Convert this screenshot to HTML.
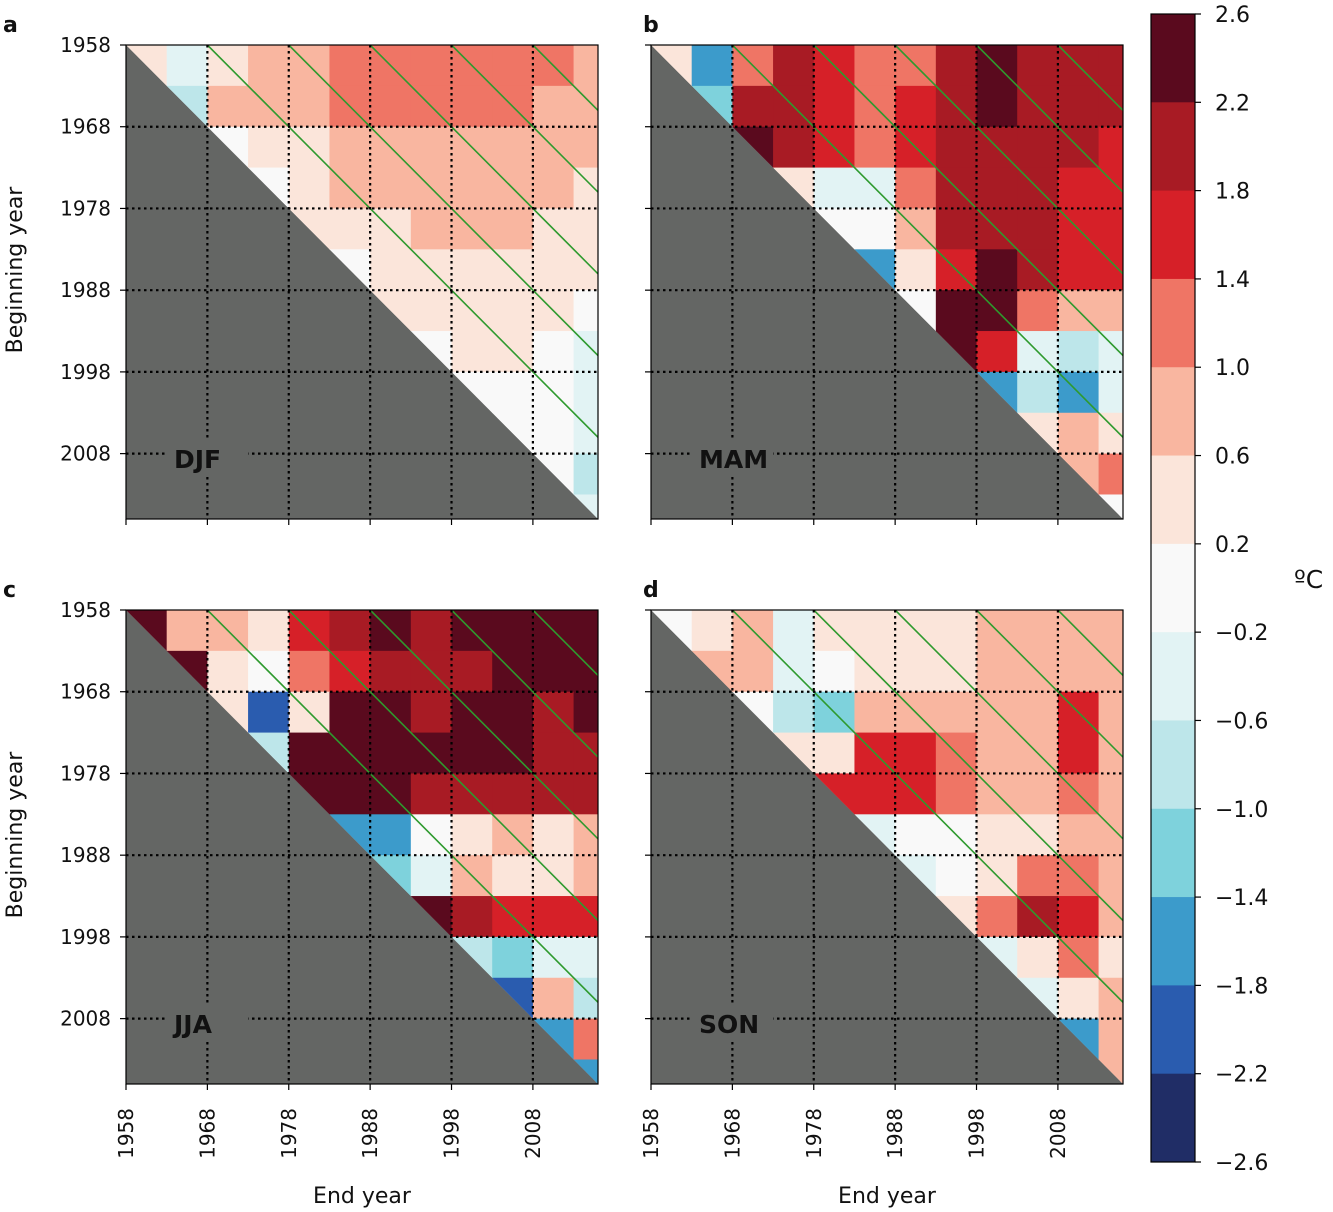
<!DOCTYPE html>
<html><head><meta charset="utf-8">
<style>
html,body{margin:0;padding:0;background:#fff;}
svg{display:block;font-family:"DejaVu Sans","Liberation Sans",sans-serif;}
</style></head>
<body>
<svg id="fig" width="1333" height="1212" viewBox="0 0 1333 1212">
<g id="panels"></g>
<g id="cbar"></g>
</svg>
<script>
// ---- data ----
const startYear = 1958;
const endYear = 2016;
const blockYears = 5;
const yearTicks = [1958, 1968, 1978, 1988, 1998, 2008];
const trendLengths = [10, 20, 30, 40, 50];
const cbarLevels = [2.6, 2.2, 1.8, 1.4, 1.0, 0.6, 0.2, -0.2, -0.6, -1.0, -1.4, -1.8, -2.2, -2.6];
const cbarColors = ["#5a0a1e","#a81b24","#d62028","#ef7565","#f9b6a0","#fbe5da","#f9f9f9","#e2f3f4","#bde6ea","#7ed2dc","#3c9bcb","#2a5caf","#202d66"];
const panelLetters = ["a","b","c","d"];
const seasonNames = ["DJF","MAM","JJA","SON"];
const N = null;
const djf = [
 [0.2,-0.4,0.4,0.6,0.8,1.2,1.2,1.2,1.2,1.2,1.0,0.8],
 [N,-0.8,0.6,0.8,0.8,1.0,1.0,1.2,1.2,1.0,0.8,0.6],
 [N,N,0.0,0.4,0.4,0.6,0.6,0.8,0.8,0.8,0.6,0.6],
 [N,N,N,0.0,0.2,0.6,0.6,0.6,0.6,0.6,0.6,0.4],
 [N,N,N,N,0.2,0.4,0.4,0.6,0.6,0.6,0.4,0.4],
 [N,N,N,N,N,0.0,0.2,0.4,0.4,0.4,0.4,0.2],
 [N,N,N,N,N,N,0.2,0.4,0.4,0.4,0.2,0.0],
 [N,N,N,N,N,N,N,0.0,0.2,0.2,0.0,-0.4],
 [N,N,N,N,N,N,N,N,0.0,0.0,-0.2,-0.6],
 [N,N,N,N,N,N,N,N,N,-0.2,0.0,-0.6],
 [N,N,N,N,N,N,N,N,N,N,0.0,-0.8],
 [N,N,N,N,N,N,N,N,N,N,N,-0.4]];
const mam = [
 [0.4,-1.6,1.2,1.8,1.4,1.0,1.2,2.0,2.2,2.0,2.0,1.8],
 [N,-1.4,2.0,2.0,1.6,1.2,1.4,2.0,2.4,2.0,2.0,1.8],
 [N,N,2.2,1.8,1.6,1.2,1.4,1.8,2.0,1.8,1.8,1.6],
 [N,N,N,0.4,-0.4,-0.6,1.2,1.8,1.8,1.8,1.6,1.4],
 [N,N,N,N,0.0,-0.2,0.6,1.8,2.0,1.8,1.6,1.6],
 [N,N,N,N,N,-1.6,0.4,1.6,2.4,2.0,1.6,1.4],
 [N,N,N,N,N,N,0.0,2.2,2.2,1.0,0.8,0.8],
 [N,N,N,N,N,N,N,2.2,1.4,-0.4,-0.8,-0.4],
 [N,N,N,N,N,N,N,N,-1.8,-1.0,-1.8,-0.6],
 [N,N,N,N,N,N,N,N,N,0.4,0.8,0.4],
 [N,N,N,N,N,N,N,N,N,N,0.6,1.0],
 [N,N,N,N,N,N,N,N,N,N,N,-0.2]];
const jja = [
 [2.6,0.6,0.8,0.4,1.4,2.0,2.2,2.0,2.2,2.4,2.6,2.6],
 [N,2.4,0.4,0.0,1.0,1.6,2.0,2.0,2.0,2.4,2.2,2.2],
 [N,N,0.4,-2.0,0.2,2.2,2.2,2.0,2.4,2.2,2.0,2.2],
 [N,N,N,-1.0,2.4,2.6,2.6,2.4,2.2,2.2,2.0,1.8],
 [N,N,N,N,2.2,2.4,2.4,2.0,2.0,2.0,2.0,1.8],
 [N,N,N,N,N,-1.6,-1.8,0.0,0.2,0.6,0.4,0.6],
 [N,N,N,N,N,N,-1.4,-0.6,0.6,0.4,0.4,0.6],
 [N,N,N,N,N,N,N,2.2,1.8,1.4,1.4,1.6],
 [N,N,N,N,N,N,N,N,-1.0,-1.4,-0.6,-0.6],
 [N,N,N,N,N,N,N,N,N,-2.0,0.6,-0.8],
 [N,N,N,N,N,N,N,N,N,N,-1.8,1.0],
 [N,N,N,N,N,N,N,N,N,N,N,-1.8]];
const son = [
 [0.0,0.4,0.6,-0.4,0.2,0.4,0.2,0.4,0.6,0.6,0.6,0.6],
 [N,0.6,0.8,-0.6,0.0,0.2,0.2,0.4,0.6,0.6,0.8,0.6],
 [N,N,0.0,-0.8,-1.2,0.6,0.6,0.6,0.6,0.8,1.4,0.8],
 [N,N,N,0.2,0.2,1.4,1.4,1.0,0.8,0.8,1.4,0.8],
 [N,N,N,N,1.6,1.4,1.6,1.0,0.6,0.6,1.0,0.6],
 [N,N,N,N,N,-0.6,0.0,0.0,0.2,0.4,0.6,0.6],
 [N,N,N,N,N,N,-0.4,0.0,0.4,1.2,1.0,0.6],
 [N,N,N,N,N,N,N,0.4,1.0,1.8,1.4,0.6],
 [N,N,N,N,N,N,N,N,-0.4,0.4,1.2,0.4],
 [N,N,N,N,N,N,N,N,N,-0.4,0.4,0.6],
 [N,N,N,N,N,N,N,N,N,N,-1.6,0.6],
 [N,N,N,N,N,N,N,N,N,N,N,0.8]];
const seasonData = [djf, mam, jja, son];

// ---- layout ----
const NS = "http://www.w3.org/2000/svg";
const panelBoxes = [{x:126,y:45},{x:651,y:45},{x:126,y:610},{x:651,y:610}];
const PW = 472, PH = 474;
function mk(tag, attrs, parent){const e=document.createElementNS(NS,tag);for(const k in attrs)e.setAttribute(k,attrs[k]);if(parent)parent.appendChild(e);return e;}
function colorFor(v){
  for(let i=0;i<cbarColors.length;i++){ if(v>=cbarLevels[i+1]) return cbarColors[i]; }
  return cbarColors[cbarColors.length-1];
}
const panelsG = document.getElementById('panels');
seasonData.forEach((grid, p) => {
  const b = panelBoxes[p];
  const X = yr => b.x + (yr - startYear) * PW / (endYear - startYear);
  const Y = yr => b.y + (yr - startYear) * PH / (endYear - startYear);
  const g = mk('g', {}, panelsG);
  
  
  const bg = mk('rect', {x:b.x,y:b.y,width:PW,height:PH,fill:'#646664'}, g);
  
  
  const cp = mk('clipPath', {id:'tri'+p}, g);
  mk('polygon', {points:`${b.x},${b.y} ${b.x+PW},${b.y} ${b.x+PW},${b.y+PH}`}, cp);
  const cells = mk('g', {'clip-path':`url(#tri${p})`}, g);
  
  
  mk('polygon', {points:`${b.x},${b.y} ${b.x+PW},${b.y} ${b.x+PW},${b.y+PH}`, fill:'#f9f9f9'}, cells);
  grid.forEach((row, i) => {
    row.forEach((v, j) => {
      if (v === null) return;
      const y0 = startYear + i*blockYears, x0 = startYear + j*blockYears;
      const y1 = Math.min(y0+blockYears, endYear), x1 = Math.min(x0+blockYears, endYear);
      const r = mk('rect', {x:X(x0), y:Y(y0), width:X(x1)-X(x0)+0.5, height:Y(y1)-Y(y0)+0.5, fill:colorFor(v)}, cells);
      
      
    });
  });
  trendLengths.forEach(L => {
    const ln = mk('line', {x1:X(startYear+L), y1:Y(startYear), x2:X(endYear), y2:Y(endYear-L), stroke:'#2e9a2e', 'stroke-width':1.6}, cells);
    
    
  });
  yearTicks.slice(1).forEach(t => {
    const v = mk('line', {x1:X(t),y1:b.y,x2:X(t),y2:b.y+PH,stroke:'#000','stroke-width':2.2,'stroke-dasharray':'2.5 3.5'}, g);
    
    
    const h = mk('line', {x1:b.x,y1:Y(t),x2:b.x+PW,y2:Y(t),stroke:'#000','stroke-width':2.2,'stroke-dasharray':'2.5 3.5'}, g);
    
    
  });
  const sl = mk('rect', {x:b.x+40, y:b.y+394, width:82, height:36, fill:'#646664'}, g);
  
  
  const st = mk('text', {x:b.x+48, y:b.y+423, 'font-size':25, 'font-weight':'bold', fill:'#111'}, g);
  st.textContent = seasonNames[p];
  
  
  const fr = mk('rect', {x:b.x,y:b.y,width:PW,height:PH,fill:'none',stroke:'#000','stroke-width':1.2}, g);
  
  
  yearTicks.forEach(t => {
    mk('line', {x1:b.x-6,y1:Y(t),x2:b.x,y2:Y(t),stroke:'#000','stroke-width':1.2}, g);
    mk('line', {x1:X(t),y1:b.y+PH,x2:X(t),y2:b.y+PH+6,stroke:'#000','stroke-width':1.2}, g);
    if (p % 2 === 0) {
      const yl = mk('text', {x:b.x-15, y:Y(t)+7, 'font-size':20, 'text-anchor':'end', fill:'#111'}, g);
      yl.textContent = t;
      
      
    }
    if (p >= 2) {
      const xl = mk('text', {x:0, y:0, 'font-size':20, 'text-anchor':'end', fill:'#111', transform:`translate(${X(t)+7},${b.y+PH+24}) rotate(-90)`}, g);
      xl.textContent = t;
      
      
    }
  });
  const pl = mk('text', {x:(p%2===0?3:643), y:b.y-13, 'font-size':22, 'font-weight':'bold', fill:'#111'}, g);
  pl.textContent = panelLetters[p];
  
  
  if (p >= 2) {
    const xt = mk('text', {x:b.x+PW/2, y:1203, 'font-size':22, 'text-anchor':'middle', fill:'#111'}, g);
    xt.textContent = 'End year';
    
    
  }
  if (p % 2 === 0) {
    const yt = mk('text', {x:0, y:0, 'font-size':22, 'text-anchor':'middle', fill:'#111', transform:`translate(22,${b.y+PH/2-12}) rotate(-90)`}, g);
    yt.textContent = 'Beginning year';
    
    
  }
});
const cb = document.getElementById('cbar');
const cbX = 1151, cbY = 14, cbW = 44, cbH = 1148;
const step = cbH / cbarColors.length;
cbarColors.forEach((c, i) => {
  const r = mk('rect', {x:cbX, y:cbY+i*step, width:cbW, height:step+0.5, fill:c}, cb);
  
  
});
mk('rect', {x:cbX,y:cbY,width:cbW,height:cbH,fill:'none',stroke:'#000','stroke-width':1.2}, cb);
cbarLevels.forEach((lv, i) => {
  const y = cbY + i*step;
  mk('line', {x1:cbX+cbW, y1:y, x2:cbX+cbW+6, y2:y, stroke:'#000','stroke-width':1.2}, cb);
  const t = mk('text', {x:1215, y:y+8, 'font-size':22, fill:'#111'}, cb);
  t.textContent = (lv < 0 ? '\u2212' : '') + Math.abs(lv).toFixed(1);
  
  
});
const unit = mk('text', {x:1294, y:588, 'font-size':25, fill:'#111'}, cb);
unit.textContent = '\u00BAC';


</script>
</body></html>
